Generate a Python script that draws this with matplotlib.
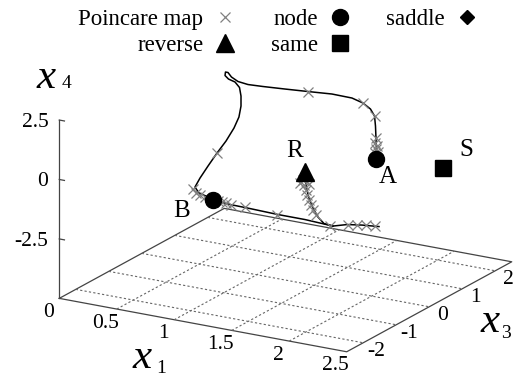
import matplotlib
matplotlib.use("Agg")
import matplotlib.pyplot as plt
from matplotlib.lines import Line2D
from mpl_toolkits.mplot3d import proj3d

plt.rcParams['font.family'] = ['Liberation Serif', 'DejaVu Serif']

# axis ranges and ticks (base plane sits at -5: gnuplot ticslevel 0.5)
x1_lim = (0.0, 2.5)
x3_lim = (-2.5, 2.5)
x4_lim = (-5.0, 2.5)
x1_ticks = [0, 0.5, 1, 1.5, 2, 2.5]
x1_ticklabels = ['0', '0.5', '1', '1.5', '2', '2.5']
x3_ticks = [-2, -1, 0, 1, 2]
x3_ticklabels = ['-2', '-1', '0', '1', '2']
x4_ticks = [-2.5, 0, 2.5]
x4_ticklabels = ['-2.5', '0', '2.5']

# orbit leaving node A, over the top (with the small loop), down to node B
orbit_ab_x1 = [1.869, 1.869, 1.836, 1.803, 1.766, 1.702, 1.637, 1.541, 1.367, 1.159,
               0.959, 0.767, 0.637, 0.550, 0.493, 0.463, 0.441, 0.437, 0.467, 0.524,
               0.563, 0.576, 0.576, 0.558, 0.515, 0.460, 0.396, 0.332, 0.277, 0.233,
               0.268, 0.329, 0.390]
orbit_ab_x3 = [0.6, 0.6, 0.7, 0.8, 0.9, 1.0, 1.0, 1.0, 1.0, 1.0,
               1.0, 1.0, 1.0, 1.0, 1.0, 1.0, 1.0, 1.0, 1.0, 1.0,
               1.0, 1.0, 1.0, 1.0, 1.0, 0.95, 0.9, 0.85, 0.8, 0.8,
               0.8, 0.8, 0.8]
orbit_ab_x4 = [0.214, 0.571, 0.971, 1.370, 1.682, 1.843, 2.037, 2.161, 2.173, 2.091,
               2.016, 1.950, 1.916, 1.965, 2.103, 2.265, 2.266, 2.115, 1.995, 1.920,
               1.724, 1.378, 0.957, 0.478, -0.023, -0.581, -1.106, -1.673, -2.189, -2.607,
               -2.828, -2.899, -3.013]

# orbit from B running out along the floor
orbit_b_x1 = [0.390, 0.520, 0.726, 0.984, 1.233, 1.491, 1.613, 1.743, 1.891]
orbit_b_x3 = [0.8, 0.8, 0.75, 0.7, 0.65, 0.6, 0.6, 0.6, 0.6]
orbit_b_x4 = [-3.013, -3.064, -3.031, -3.013, -2.962, -2.966, -2.793, -2.698, -2.628]

# orbit from the reverse point R
orbit_r_x1 = [1.247, 1.247, 1.260, 1.282, 1.317, 1.360, 1.413, 1.491]
orbit_r_x3 = [0.6, 0.6, 0.6, 0.6, 0.6, 0.6, 0.6, 0.6]
orbit_r_x4 = [-0.901, -1.166, -1.575, -1.976, -2.365, -2.705, -2.931, -2.966]

# Poincare map points
pmap_x1 = [1.836, 1.766, 1.637, 1.159, 0.396,
           1.860, 1.875, 1.865, 1.880, 1.860,
           0.216, 0.242, 0.277, 0.320, 0.433, 0.468, 0.503, 0.546,
           0.682, 0.975, 1.465, 1.621, 1.700, 1.778, 1.856,
           1.234, 1.243, 1.256, 1.269, 1.282, 1.300, 1.317, 1.343, 1.208, 1.278]
pmap_x3 = [0.7, 0.9, 1.0, 1.0, 0.9,
           0.6, 0.6, 0.6, 0.6, 0.6,
           0.8, 0.8, 0.8, 0.8, 0.8, 0.8, 0.8, 0.8,
           0.75, 0.7, 0.6, 0.6, 0.6, 0.6, 0.6,
           0.6, 0.6, 0.6, 0.6, 0.6, 0.6, 0.6, 0.6, 0.6, 0.6]
pmap_x4 = [0.971, 1.682, 2.037, 2.091, -1.106,
           0.865, 0.739, 0.613, 0.508, 0.445,
           -2.707, -2.830, -2.904, -2.950, -3.016, -3.027, -3.038, -3.062,
           -3.007, -3.042, -2.989, -2.786, -2.715, -2.666, -2.638,
           -1.262, -1.464, -1.663, -1.861, -2.060, -2.254, -2.449, -2.615, -1.411, -1.390]

# fixed points
node_x1, node_x3, node_x4 = [1.869, 0.390], [0.6, 0.8], [0.214, -3.013]
reverse_x1, reverse_x3, reverse_x4 = [1.247], [0.6], [-0.901]
same_x1, same_x3, same_x4 = [2.333], [1.0], [-0.072]
saddle_x1, saddle_x3, saddle_x4 = [], [], []

point_names = ['A', 'B', 'R', 'S']
name_x1 = [1.969, 0.116, 1.160, 2.533]
name_x3 = [0.6, 0.8, 0.6, 1.0]
name_x4 = [-0.49, -3.74, -0.12, 0.85]

fig = plt.figure(figsize=(5.14, 3.81), dpi=100)
ax = fig.add_axes([0.0673, -0.1596, 0.9506, 1.2824], projection='3d',
                  proj_type='ortho', computed_zorder=False)
ax.set_xlim(*x1_lim)
ax.set_ylim(*x3_lim)
ax.set_zlim(*x4_lim)
ax.set_box_aspect((332.8, 327.3, 188.1))
ax.view_init(elev=18.56, azim=-59.73)
ax.set_axis_off()
M = ax.get_proj()


def label3d(x, y, z, s, **kw):
    # place flat text at the projected position of a 3-D point
    px, py, _ = proj3d.proj_transform(x, y, z, M)
    ax.text2D(px, py, s, transform=ax.transData, **kw)


zb = x4_lim[0]
edge = dict(color='#444444', lw=0.9, zorder=1)
grid = dict(color='#666666', lw=0.8, ls=(0, (2, 2)), zorder=1)

# base rectangle
ax.plot([x1_lim[0], x1_lim[1], x1_lim[1], x1_lim[0], x1_lim[0]],
        [x3_lim[0], x3_lim[0], x3_lim[1], x3_lim[1], x3_lim[0]],
        [zb] * 5, **edge)
for t in x1_ticks[1:-1]:
    ax.plot([t, t], list(x3_lim), [zb, zb], **grid)
for t in x3_ticks:
    ax.plot(list(x1_lim), [t, t], [zb, zb], **grid)

# vertical axis
ax.plot([0, 0], [x3_lim[0]] * 2, [zb, x4_lim[1]], **edge)
for t, s in zip(x4_ticks, x4_ticklabels):
    ax.plot([0, 0.045], [x3_lim[0]] * 2, [t, t], **edge)
    label3d(-0.044, x3_lim[0] - 0.18, t, s, ha='right', va='center', fontsize=15.5)

for t, s in zip(x1_ticks, x1_ticklabels):
    label3d(t + 0.095, x3_lim[0] - 0.665, zb, s, ha='center', va='center', fontsize=15.5)
for t, s in zip(x3_ticks, x3_ticklabels):
    label3d(x1_lim[1] + 0.19, t - 0.27, zb, s, ha='center', va='center', fontsize=15.5)

# orbits
line = dict(color='black', lw=1.1, zorder=3)
ax.plot(orbit_ab_x1, orbit_ab_x3, orbit_ab_x4, **line)
ax.plot(orbit_b_x1, orbit_b_x3, orbit_b_x4, **line)
ax.plot(orbit_r_x1, orbit_r_x3, orbit_r_x4, **line)

cross = dict(ls='none', marker='x', ms=7, mew=0.9, color='#808080')
ax.plot(pmap_x1, pmap_x3, pmap_x4, zorder=4, **cross)

node_st = dict(ls='none', marker='o', ms=11.5, color='black')
rev_st = dict(ls='none', marker='^', ms=13, color='black')
same_st = dict(ls='none', marker='s', ms=12, color='black')
saddle_st = dict(ls='none', marker='D', ms=7.5, color='black')
ax.plot(node_x1, node_x3, node_x4, zorder=5, **node_st)
ax.plot(reverse_x1, reverse_x3, reverse_x4, zorder=5, **rev_st)
ax.plot(same_x1, same_x3, same_x4, zorder=5, **same_st)

for s, a, b, c in zip(point_names, name_x1, name_x3, name_x4):
    label3d(a, b, c, s, ha='center', va='center', fontsize=18, zorder=6)


# axis names: big italic x with a small subscript
def axis_name(x, y, sub_x, sub_y, sub):
    fig.text(x, y, 'x', style='italic', fontsize=31, ha='left', va='baseline')
    fig.text(sub_x, sub_y, sub, fontsize=14, ha='left', va='baseline')


axis_name(0.0714, 0.769, 0.1205, 0.769, '4')
axis_name(0.2588, 0.0341, 0.3035, 0.0215, '1')
axis_name(0.9358, 0.1294, 0.9745, 0.1121, '3')

handles = [Line2D([], [], **cross), Line2D([], [], **rev_st),
           Line2D([], [], **node_st), Line2D([], [], **same_st),
           Line2D([], [], **saddle_st)]
labels = ['Poincare map', 'reverse', 'node', 'same', 'saddle']
fig.legend(handles, labels, loc='upper right', bbox_to_anchor=(0.9304, 0.9757),
           ncol=3, markerfirst=False, frameon=False, fontsize=16.5,
           handlelength=1.0, handletextpad=0.46, columnspacing=1.5,
           labelspacing=0.2, borderpad=0, borderaxespad=0)

fig.savefig('out.png', dpi=100)
